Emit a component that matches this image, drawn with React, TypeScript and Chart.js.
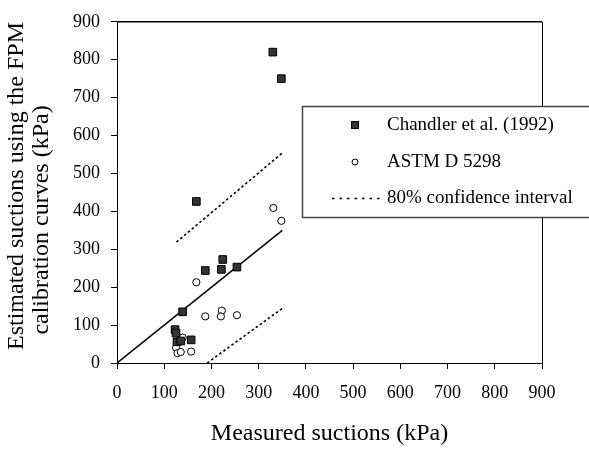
import React, { useEffect, useRef } from 'react';
import { Chart, registerables } from 'chart.js';

Chart.register(...registerables);

const FONT = "'Liberation Serif', 'Times New Roman', serif";

// ---- data ----
const xTicks = [0, 100, 200, 300, 400, 500, 600, 700, 800, 900];
const yTicks = [0, 100, 200, 300, 400, 500, 600, 700, 800, 900];

const chandlerX = [123, 125, 127, 135, 157, 139, 187, 221, 224, 254, 168, 330, 348];
const chandlerY = [88, 79, 56, 58, 61, 135, 244, 247, 273, 253, 426, 820, 750];

const astmX = [139, 125, 128, 135, 157, 187, 222, 220, 254, 168, 331, 348];
const astmY = [67, 40, 26, 29, 30, 123, 138, 123, 126, 213, 409, 375];

const fitX = [0, 350];
const fitY = [0, 350];

const upperX = [126, 350];
const upperY = [319, 554];

const lowerX = [191, 350];
const lowerY = [0, 144];

const xTitle = 'Measured suctions (kPa)';
const yTitleLines = ['Estimated suctions using the FPM', 'calibration curves (kPa)'];
const legendLabels = ['Chandler et al. (1992)', 'ASTM D 5298', '80% confidence interval'];

const pts = (xs: number[], ys: number[]) => xs.map((x, i) => ({ x, y: ys[i] }));

const framePlugin = {
  id: 'frame',
  afterDatasetsDraw(chart: any) {
    const { ctx, chartArea: a } = chart;
    ctx.save();
    ctx.strokeStyle = '#000';
    ctx.lineWidth = 1.5;
    ctx.beginPath();
    ctx.moveTo(a.left, a.top);
    ctx.lineTo(a.right, a.top);
    ctx.stroke();
    ctx.lineWidth = 1;
    ctx.beginPath();
    ctx.moveTo(Math.round(a.right) + 0.5, a.top);
    ctx.lineTo(Math.round(a.right) + 0.5, a.bottom);
    ctx.stroke();
    ctx.restore();
  },
};

const titlePlugin = {
  id: 'titles',
  afterDraw(chart: any) {
    const { ctx, chartArea: a } = chart;
    ctx.save();
    ctx.fillStyle = '#000';
    ctx.font = `24px ${FONT}`;
    ctx.textAlign = 'center';
    ctx.textBaseline = 'middle';
    ctx.fillText(xTitle, (a.left + a.right) / 2, 434);
    const centers = [
      { x: 17, y: 186 },
      { x: 42, y: 220 },
    ];
    yTitleLines.forEach((t, i) => {
      ctx.save();
      ctx.translate(centers[i].x, centers[i].y);
      ctx.rotate(-Math.PI / 2);
      ctx.fillText(t, 0, 0);
      ctx.restore();
    });
    ctx.restore();
  },
};

const legendPlugin = {
  id: 'customLegend',
  afterDraw(chart: any) {
    const ctx = chart.ctx;
    const ds = chart.data.datasets;
    const bx = 302, by = 106, bw = 300, bh = 112;
    ctx.save();
    ctx.fillStyle = '#fff';
    ctx.fillRect(bx, by, bw, bh);
    ctx.strokeStyle = '#444';
    ctx.lineWidth = 1.5;
    ctx.strokeRect(bx + 0.5, by + 0.5, bw, bh - 1);

    const mx = 355;
    const rows = [125, 162, 198];
    // square
    ctx.fillStyle = ds[0].backgroundColor;
    ctx.strokeStyle = ds[0].borderColor;
    ctx.lineWidth = 1;
    ctx.fillRect(mx - 3.5, rows[0] - 3.5, 7, 7);
    ctx.strokeRect(mx - 3.5, rows[0] - 3.5, 7, 7);
    // circle
    ctx.fillStyle = ds[1].backgroundColor;
    ctx.strokeStyle = ds[1].borderColor;
    ctx.beginPath();
    ctx.arc(mx, rows[1], 3, 0, Math.PI * 2);
    ctx.fill();
    ctx.stroke();
    // dotted line
    ctx.strokeStyle = ds[3].borderColor;
    ctx.lineWidth = 1.3;
    ctx.setLineDash([2.5, 5]);
    ctx.beginPath();
    ctx.moveTo(332, rows[2] + 0.5);
    ctx.lineTo(380, rows[2] + 0.5);
    ctx.stroke();
    ctx.setLineDash([]);

    ctx.fillStyle = '#000';
    ctx.font = `19px ${FONT}`;
    ctx.textAlign = 'left';
    ctx.textBaseline = 'middle';
    legendLabels.forEach((t, i) => ctx.fillText(t, 387, rows[i]));
    ctx.restore();
  },
};

export default function App() {
  const ref = useRef<HTMLCanvasElement>(null);

  useEffect(() => {
    document.body.style.margin = '0';
    const canvas = ref.current as HTMLCanvasElement;
    const dotted = {
      borderColor: '#000',
      borderWidth: 1.6,
      borderDash: [2.5, 2.5],
      showLine: true,
      pointRadius: 0,
      fill: false,
    };
    const chart = new Chart(canvas, {
      type: 'scatter',
      data: {
        datasets: [
          {
            label: legendLabels[0],
            data: pts(chandlerX, chandlerY),
            pointStyle: 'rect',
            pointRadius: 5.4,
            backgroundColor: '#333333',
            borderColor: '#000',
            borderWidth: 1,
            order: 1,
          },
          {
            label: legendLabels[1],
            data: pts(astmX, astmY),
            pointStyle: 'circle',
            pointRadius: 3.6,
            backgroundColor: '#fff',
            borderColor: '#000',
            borderWidth: 1,
            order: 2,
          },
          {
            label: '1:1',
            data: pts(fitX, fitY),
            showLine: true,
            pointRadius: 0,
            borderColor: '#000',
            borderWidth: 1.5,
            order: 3,
          },
          { label: legendLabels[2], data: pts(upperX, upperY), ...dotted, order: 4 },
          { label: 'lower', data: pts(lowerX, lowerY), ...dotted, order: 5 },
        ] as any,
      },
      options: {
        responsive: false,
        animation: false,
        devicePixelRatio: 1,
        layout: { padding: { top: 20, right: 47, left: 0, bottom: 0 } },
        plugins: { legend: { display: false }, tooltip: { enabled: false } },
        scales: {
          x: {
            type: 'linear',
            min: 0,
            max: 900,
            afterBuildTicks: (s: any) => {
              s.ticks = xTicks.map((v) => ({ value: v }));
            },
            afterFit: (s: any) => {
              s.height = 87;
            },
            ticks: {
              font: { family: FONT, size: 18 },
              color: '#000',
              padding: 13,
              maxRotation: 0,
              autoSkip: false,
            },
            grid: { display: true, drawOnChartArea: false, drawTicks: true, tickLength: 6, color: '#000', lineWidth: 1 },
            border: { display: true, color: '#000', width: 1 },
          },
          y: {
            type: 'linear',
            min: 0,
            max: 900,
            afterBuildTicks: (s: any) => {
              s.ticks = yTicks.map((v) => ({ value: v }));
            },
            afterFit: (s: any) => {
              s.width = 117;
            },
            ticks: {
              font: { family: FONT, size: 18 },
              color: '#000',
              padding: 11,
              autoSkip: false,
            },
            grid: { display: true, drawOnChartArea: false, drawTicks: true, tickLength: 6, color: '#000', lineWidth: 1 },
            border: { display: true, color: '#000', width: 1 },
          },
        },
      } as any,
      plugins: [framePlugin, titlePlugin, legendPlugin],
    });
    return () => chart.destroy();
  }, []);

  return (
    <div style={{ position: 'absolute', left: 0, top: 0, width: 589, height: 450 }}>
      <canvas ref={ref} width={589} height={450} style={{ display: 'block', width: 589, height: 450 }} />
    </div>
  );
}
